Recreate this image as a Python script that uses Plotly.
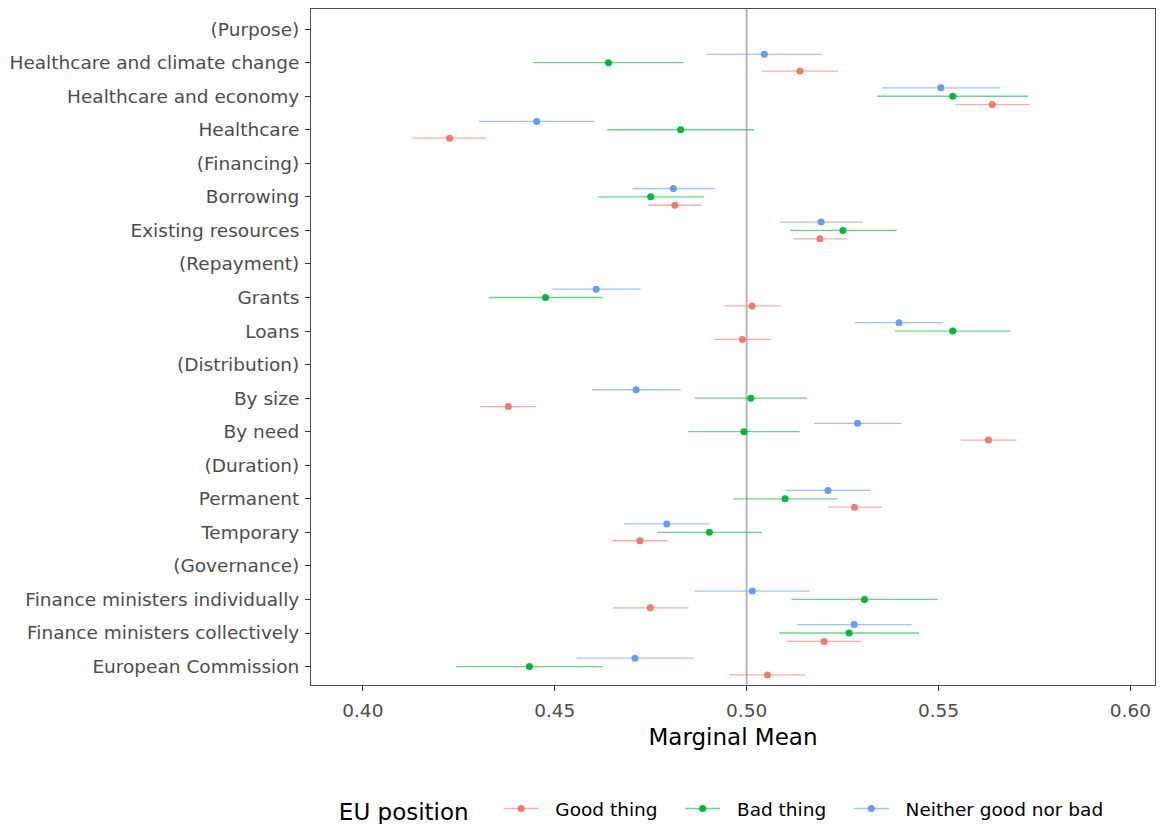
import plotly.graph_objects as go

# Attribute levels, top to bottom (headers in parentheses carry no estimates)
levels = [
    "(Purpose)", "Healthcare and climate change", "Healthcare and economy", "Healthcare",
    "(Financing)", "Borrowing", "Existing resources",
    "(Repayment)", "Grants", "Loans",
    "(Distribution)", "By size", "By need",
    "(Duration)", "Permanent", "Temporary",
    "(Governance)", "Finance ministers individually", "Finance ministers collectively",
    "European Commission",
]

# Marginal means and 95% intervals by EU position
good_est = [None, 0.5139, 0.5640, 0.4226, None, 0.4813, 0.5191, None, 0.5014, 0.4989,
            None, 0.4379, 0.5630, None, 0.5281, 0.4722, None, 0.4749, 0.5202, 0.5054]
good_lo = [None, 0.5040, 0.5544, 0.4129, None, 0.4744, 0.5123, None, 0.4940, 0.4915,
           None, 0.4306, 0.5558, None, 0.5212, 0.4651, None, 0.4652, 0.5106, 0.4955]
good_hi = [None, 0.5239, 0.5737, 0.4322, None, 0.4881, 0.5261, None, 0.5089, 0.5064,
           None, 0.4452, 0.5703, None, 0.5353, 0.4794, None, 0.4849, 0.5298, 0.5153]

bad_est = [None, 0.4640, 0.5537, 0.4828, None, 0.4750, 0.5251, None, 0.4476, 0.5537,
           None, 0.5011, 0.4993, None, 0.5100, 0.4903, None, 0.5307, 0.5267, 0.4434]
bad_lo = [None, 0.4443, 0.5340, 0.4637, None, 0.4611, 0.5113, None, 0.4328, 0.5386,
          None, 0.4865, 0.4848, None, 0.4964, 0.4767, None, 0.5117, 0.5085, 0.4243]
bad_hi = [None, 0.4836, 0.5733, 0.5019, None, 0.4889, 0.5391, None, 0.4624, 0.5688,
          None, 0.5157, 0.5138, None, 0.5235, 0.5040, None, 0.5498, 0.5449, 0.4626]

neither_est = [None, 0.5046, 0.5506, 0.4453, None, 0.4809, 0.5194, None, 0.4608, 0.5397,
               None, 0.4712, 0.5289, None, 0.5212, 0.4792, None, 0.5015, 0.5280, 0.4709]
neither_lo = [None, 0.4896, 0.5353, 0.4303, None, 0.4703, 0.5086, None, 0.4494, 0.5282,
              None, 0.4598, 0.5176, None, 0.5102, 0.4681, None, 0.4864, 0.5131, 0.4557]
neither_hi = [None, 0.5196, 0.5660, 0.4604, None, 0.4917, 0.5302, None, 0.4724, 0.5512,
              None, 0.4828, 0.5403, None, 0.5324, 0.4902, None, 0.5165, 0.5430, 0.4861]

x_ticks = [0.40, 0.45, 0.50, 0.55, 0.60]
x_tick_labels = ["0.40", "0.45", "0.50", "0.55", "0.60"]

n = len(levels)
pos = [n - 1 - i for i in range(n)]  # top level gets the highest position

series = [
    ("Good thing", good_est, good_lo, good_hi, (248, 118, 109), -0.25),
    ("Bad thing", bad_est, bad_lo, bad_hi, (0, 186, 56), 0.0),
    ("Neither good nor bad", neither_est, neither_lo, neither_hi, (97, 156, 255), 0.25),
]

FONT = "DejaVu Sans, Liberation Sans, Arial, sans-serif"
NBSP = "\u00a0"

fig = go.Figure()

for k, (name, est, lo, hi, rgb, dodge) in enumerate(series):
    idx = [i for i in range(n) if est[i] is not None]
    xs = [est[i] for i in idx]
    ys = [pos[i] + dodge for i in idx]
    plus = [hi[i] - est[i] for i in idx]
    minus = [est[i] - lo[i] for i in idx]
    solid = "rgb(%d,%d,%d)" % rgb
    faded = "rgba(%d,%d,%d,0.6)" % rgb
    fig.add_trace(go.Scatter(
        x=xs, y=ys, mode="markers", name=name, showlegend=False,
        marker=dict(color=solid, size=7),
        error_x=dict(type="data", symmetric=False, array=plus, arrayminus=minus,
                     color=faded, thickness=1.3, width=0),
    ))
    # legend key: point over a short segment
    label = NBSP * 2 + name + (NBSP * 3 if k < len(series) - 1 else "")
    fig.add_trace(go.Scatter(
        x=[None], y=[None], mode="lines+markers", name=label,
        line=dict(color=faded, width=1.5),
        marker=dict(color=solid, size=7),
    ))

fig.add_vline(x=0.5, line=dict(color="rgba(160,160,160,0.75)", width=2), layer="below")

fig.update_layout(
    width=1160, height=824,
    margin=dict(l=311, r=5, t=9, b=139, autoexpand=False),
    paper_bgcolor="white", plot_bgcolor="white",
    font=dict(family=FONT, color="#000000"),
    xaxis=dict(
        range=[0.3865, 0.6064], tickvals=x_ticks, ticktext=x_tick_labels,
        showgrid=False, zeroline=False,
        ticks="outside", ticklen=5, tickwidth=1, tickcolor="#333333",
        tickfont=dict(size=18.5, color="#4D4D4D", family=FONT),
        ticklabelstandoff=4,
        showline=True, mirror=True, linecolor="#4D4D4D", linewidth=1,
        title=dict(text="Marginal Mean", font=dict(size=23, color="#000000", family=FONT), standoff=8),
    ),
    yaxis=dict(
        range=[-0.55, n - 1 + 0.6], tickvals=pos, ticktext=levels,
        showgrid=False, zeroline=False,
        ticks="outside", ticklen=5, tickwidth=1, tickcolor="#333333",
        tickfont=dict(size=18.5, color="#4D4D4D", family=FONT),
        ticklabelstandoff=2,
        showline=True, mirror=True, linecolor="#4D4D4D", linewidth=1,
    ),
    legend=dict(
        orientation="h", x=0.488, xanchor="center", y=-0.185, yanchor="middle",
        title=dict(text="EU position" + NBSP * 3, font=dict(size=23, family=FONT), side="left"),
        font=dict(size=18.5, family=FONT), itemwidth=35,
    ),
)

fig.write_html("out.html")
